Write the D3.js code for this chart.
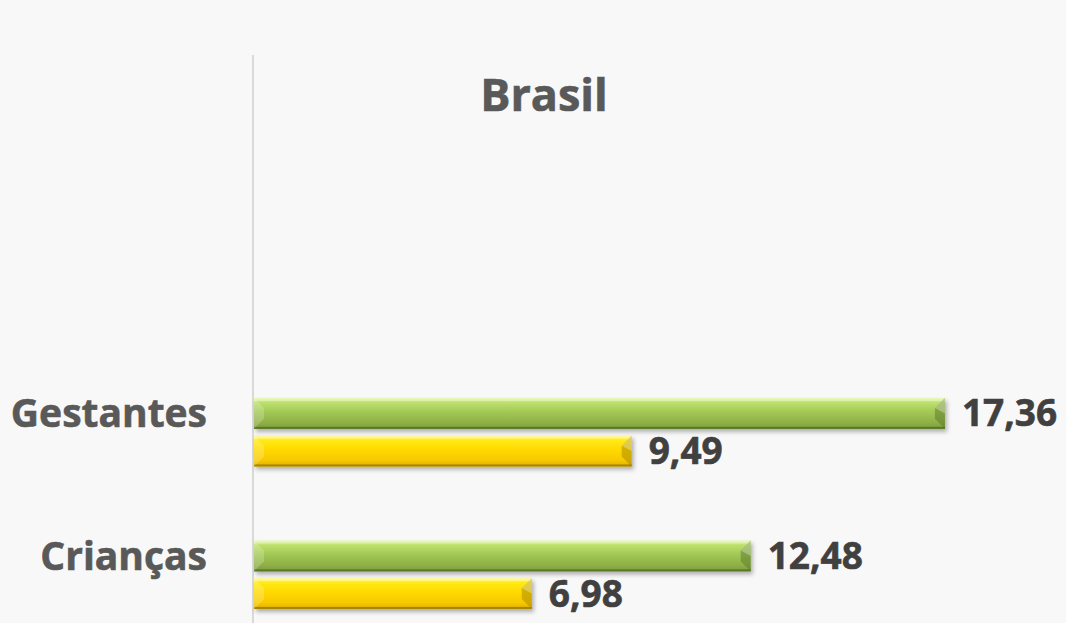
<!DOCTYPE html>
<html>
<head>
<meta charset="utf-8">
<script src="https://cdn.jsdelivr.net/npm/d3@7"></script>
<style>
  html, body { margin: 0; padding: 0; background: #f8f8f8; }
  #chart { width: 1066px; height: 623px; overflow: hidden; }
</style>
</head>
<body>
<div id="chart"></div>
<script>
// chart data
const categories = ["Gestantes", "Crianças"];
const series = ["serie1", "serie2"];
const values = {
    serie1: [17.36, 12.48],
    serie2: [9.49, 6.98]
};
const valueLabels = {
    serie1: ["17,36", "12,48"],
    serie2: ["9,49", "6,98"]
};
const xDomain = [0, 20];
const title = "Brasil";

const width = 1066, height = 623;

const svg = d3.select("#chart")
    .append("svg")
    .attr("width", width)
    .attr("height", height)
    .style("font-family", "'Open Sans', sans-serif");

svg.append("rect")
    .attr("width", width)
    .attr("height", height)
    .attr("fill", "#f8f8f8");

// gradients and shadow for the bevelled bars
const defs = svg.append("defs");
const palettes = {
    serie1: {stops: ["#dcf590", "#bde06c", "#a2c855", "#8eb046", "#7d9c3b"], edge: "#5a772b"},
    serie2: {stops: ["#fff570", "#ffea14", "#ffd900", "#f7c900", "#e0b000"], edge: "#a68500"}
};
series.forEach(s => {
    const g = defs.append("linearGradient")
        .attr("id", "grad-" + s)
        .attr("x1", 0).attr("y1", 0).attr("x2", 0).attr("y2", 1);
    const st = palettes[s].stops;
    [0, 0.15, 0.45, 0.8, 1].forEach((o, i) => {
        g.append("stop").attr("offset", o).attr("stop-color", st[i]);
    });
});
const shadow = defs.append("filter")
    .attr("id", "shadow")
    .attr("x", "-5%").attr("y", "-20%")
    .attr("width", "110%").attr("height", "160%");
shadow.append("feDropShadow")
    .attr("dx", 2).attr("dy", 3)
    .attr("stdDeviation", 2)
    .attr("flood-color", "#000")
    .attr("flood-opacity", 0.3);

// scales
const x = d3.scaleLinear()
    .domain(xDomain)
    .range([254, 1050]);

const y0 = d3.scaleBand()
    .domain(categories)
    .range([361, 646])
    .paddingInner(0.52)
    .paddingOuter(0.26);

const y1 = d3.scaleBand()
    .domain(series)
    .range([0, y0.bandwidth()])
    .paddingInner(0.18);

// vertical axis line
svg.append("line")
    .attr("x1", x(0) - 1).attr("x2", x(0) - 1)
    .attr("y1", 55).attr("y2", height)
    .attr("stroke", "#d9d9d9")
    .attr("stroke-width", 2);

// title
svg.append("text")
    .attr("x", 544)
    .attr("y", 111)
    .attr("text-anchor", "middle")
    .style("font-size", "45px")
    .style("font-weight", "bold")
    .style("fill", "#595959")
    .style("stroke", "#595959")
    .style("stroke-width", 0.6)
    .text(title);

// category labels
svg.selectAll(".cat")
    .data(categories)
    .join("text")
    .attr("class", "cat")
    .attr("x", 207)
    .attr("y", d => y0(d) + y1.bandwidth() / 2 + 14)
    .attr("text-anchor", "end")
    .style("font-size", "39px")
    .style("font-weight", "bold")
    .style("fill", "#595959")
    .style("stroke", "#595959")
    .style("stroke-width", 0.6)
    .text(d => d);

// bars
const rows = [];
categories.forEach((c, i) => {
    series.forEach(s => {
        rows.push({cat: c, s: s, v: values[s][i], label: valueLabels[s][i]});
    });
});

const bar = svg.selectAll(".bar")
    .data(rows)
    .join("g")
    .attr("class", "bar")
    .attr("transform", d => `translate(${x(0)},${y0(d.cat) + y1(d.s)})`);

const bh = y1.bandwidth();
const bev = 10;

bar.append("rect")
    .attr("width", d => x(d.v) - x(0))
    .attr("height", bh)
    .attr("fill", d => `url(#grad-${d.s})`)
    .attr("filter", "url(#shadow)");

// top highlight
bar.append("rect")
    .attr("y", 0)
    .attr("width", d => x(d.v) - x(0))
    .attr("height", 3)
    .attr("fill", "#fff")
    .attr("opacity", 0.35);

// bottom dark edge
bar.append("rect")
    .attr("y", bh - 2)
    .attr("width", d => x(d.v) - x(0))
    .attr("height", 2)
    .attr("fill", d => palettes[d.s].edge);

// left bevel
bar.append("path")
    .attr("d", `M0,0 L${bev},${bev} L${bev},${bh - bev} L0,${bh} Z`)
    .attr("fill", "#fff")
    .attr("opacity", 0.2);

// right bevel
bar.append("path")
    .attr("d", d => {
        const w = x(d.v) - x(0);
        return `M${w},0 L${w - bev},${bev} L${w - bev},${bh - bev} L${w},${bh} Z`;
    })
    .attr("fill", d => palettes[d.s].edge)
    .attr("opacity", 0.5);

bar.append("path")
    .attr("d", d => {
        const w = x(d.v) - x(0);
        return `M${w},0 L${w - bev},${bev} L${w},${bh / 2} Z`;
    })
    .attr("fill", "#fff")
    .attr("opacity", 0.3);

// value labels
bar.append("text")
    .attr("x", d => x(d.v) - x(0) + 17)
    .attr("y", bh / 2 + 13)
    .style("font-size", "37px")
    .style("font-weight", "bold")
    .style("fill", "#404040")
    .style("stroke", "#404040")
    .style("stroke-width", 0.6)
    .text(d => d.label);
</script>
</body>
</html>
